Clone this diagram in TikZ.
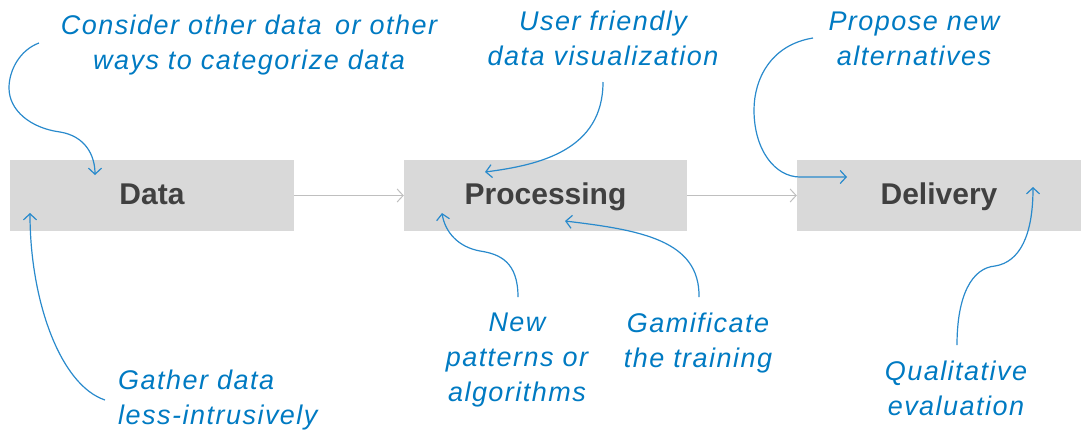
\documentclass[tikz,border=0pt]{standalone}
\usepackage{fontspec}
\setmainfont{Liberation Sans}
\newfontfamily\notefont[LetterSpace=5.5]{Liberation Sans}
\usetikzlibrary{arrows.meta}
\definecolor{boxgray}{RGB}{217,217,217}
\definecolor{labelgray}{RGB}{64,64,64}
\definecolor{linkgray}{RGB}{191,191,191}
\definecolor{noteblue}{RGB}{0,122,194}
\definecolor{curveblue}{RGB}{41,138,204}
\begin{document}
\begin{tikzpicture}[x=1pt,y=-1pt,
  stage/.style={fill=boxgray, minimum width=284pt, minimum height=71pt, inner sep=0pt,
    font=\fontsize{30}{34}\selectfont\bfseries, text=labelgray, text height=21pt, text depth=4pt},
  note/.style={font=\notefont\fontsize{27}{35}\selectfont\itshape, text=noteblue, align=center,
    inner sep=0pt, anchor=base},
  flow/.style={draw=linkgray, line width=1pt, -{Straight Barb[length=6pt,width=13pt]}},
  hint/.style={draw=curveblue, line width=1.2pt, -{Straight Barb[length=6pt,width=13pt]}}
]
\useasboundingbox (0,0) rectangle (1086,432);

% pipeline stages
\node[stage] (data) at (152,195.5) {Data};
\node[stage, minimum width=283pt] (proc) at (545.5,195.5) {Processing};
\node[stage] (deliv) at (939,195.5) {Delivery};

\draw[flow] (data.east) -- (proc.west);
\draw[flow] (proc.east) -- (deliv.west);

% ideas around the stages (anchored at the baseline of the last line)
\node[note] (consider) at (249,69) {Consider other data\enspace or other\\ways to categorize data};
\node[note] (friendly) at (603,65) {User friendly\\data visualization};
\node[note] (propose) at (914,65) {Propose new\\alternatives};
\node[note, align=left, anchor=base west] (gather) at (118,424) {Gather data\\less-intrusively};
\node[note] (patterns) at (517,401) {New\\patterns or\\algorithms};
\node[note] (gamify) at (698,367) {Gamificate\\the training};
\node[note] (quality) at (956,415) {Qualitative\\evaluation};

% curve end points
\coordinate (consider-s) at (39,43);
\coordinate (consider-e) at (95,175);
\coordinate (friendly-s) at (603,82);
\coordinate (friendly-e) at (485,172);
\coordinate (propose-s) at (813,38);
\coordinate (propose-e) at (847,177);
\coordinate (gather-s) at (105,400);
\coordinate (gather-e) at (30,213);
\coordinate (patterns-s) at (518,297);
\coordinate (patterns-e) at (442,213);
\coordinate (gamify-s) at (699,297);
\coordinate (gamify-e) at (565,221);
\coordinate (quality-s) at (957,345);
\coordinate (quality-e) at (1033,187);

\draw[hint] (consider-s) .. controls (20,50) and (9,70) .. (9,88)
  .. controls (9,110) and (30,128) .. (60,132)
  .. controls (85,136) and (95,155) .. (consider-e);
\draw[hint] (friendly-s) .. controls (603,150) and (540,165) .. (friendly-e);
\draw[hint] (propose-s) .. controls (770,45) and (754,80) .. (754,110)
  .. controls (754,150) and (775,177) .. (800,177) -- (propose-e);
\draw[hint] (gather-s) .. controls (60,385) and (30,300) .. (gather-e);
\draw[hint] (patterns-s) .. controls (518,262) and (500,254) .. (480,251)
  .. controls (458,247) and (445,232) .. (patterns-e);
\draw[hint] (gamify-s) .. controls (700,240) and (640,230) .. (gamify-e);
\draw[hint] (quality-s) .. controls (957,295) and (972,268) .. (995,266)
  .. controls (1020,262) and (1033,235) .. (quality-e);
\end{tikzpicture}
\end{document}
